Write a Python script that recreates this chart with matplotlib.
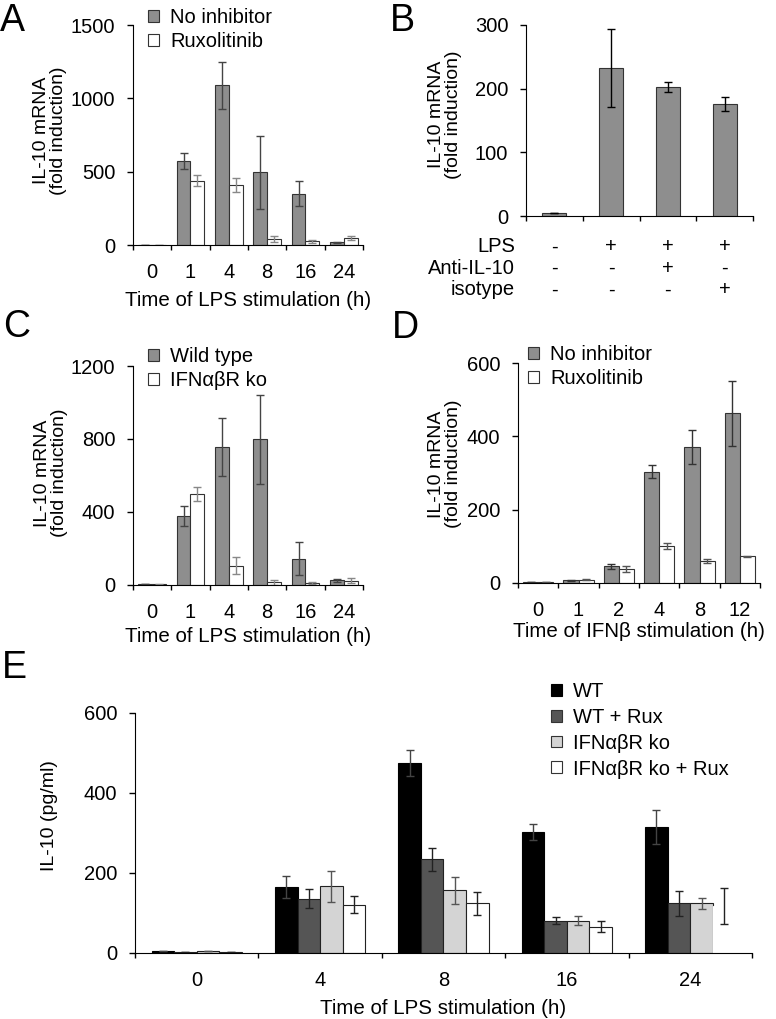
import numpy as np
import matplotlib
matplotlib.use("Agg")
import matplotlib.pyplot as plt
from matplotlib.patches import Patch

FS = 14.5
plt.rcParams['font.family'] = ['Liberation Sans', 'DejaVu Sans']
plt.rcParams['font.size'] = FS

# ---- data ----
# A: IL-10 mRNA after LPS, with / without ruxolitinib
a_times = ['0', '1', '4', '8', '16', '24']
a_noinh = [3, 572, 1091, 497, 352, 20]
a_noinh_err = [1, 54, 160, 247, 86, 5]
a_rux = [2, 440, 408, 43, 27, 48]
a_rux_err = [1, 38, 48, 20, 10, 13]

# B: anti-IL-10 / isotype
b_vals = [4, 232, 202, 176]
b_err = [0, 61, 8, 11]
b_rows = ['LPS', 'Anti-IL-10', 'isotype']
b_signs = [['-', '+', '+', '+'],
           ['-', '-', '+', '-'],
           ['-', '-', '-', '+']]

# C: wild type vs IFNabR ko
c_times = ['0', '1', '4', '8', '16', '24']
c_wt = [2, 376, 755, 797, 141, 22]
c_wt_err = [1, 56, 157, 245, 90, 7]
c_ko = [1, 498, 104, 13, 7, 20]
c_ko_err = [1, 37, 48, 14, 4, 13]

# D: IFNb stimulation
d_times = ['0', '1', '2', '4', '8', '12']
d_noinh = [1, 7, 45, 304, 371, 463]
d_noinh_err = [0, 1, 7, 19, 46, 89]
d_rux = [1, 8, 38, 100, 60, 72]
d_rux_err = [0, 1, 8, 9, 6, 2]

# E: IL-10 protein
e_times = ['0', '4', '8', '16', '24']
e_labels = ['WT', 'WT + Rux', 'IFN\u03b1\u03b2R ko', 'IFN\u03b1\u03b2R ko + Rux']
e_wt = [3, 164, 474, 301, 314]
e_wt_err = [0, 27, 33, 20, 42]
e_wtrux = [2, 135, 233, 80, 123]
e_wtrux_err = [0, 23, 30, 8, 32]
e_ko = [3, 166, 156, 80, 123]
e_ko_err = [0, 39, 34, 12, 13]
e_korux = [2, 120, 123, 65, 117]
e_korux_err = [0, 22, 28, 13, 45]

GRAY = '#8e8e8e'
EDGE = '#333333'

W, H = 776, 1019
fig = plt.figure(figsize=(W / 100, H / 100), dpi=100)


def px_axes(x0, y0, x1, y1):
    return fig.add_axes([x0 / W, 1 - y1 / H, (x1 - x0) / W, (y1 - y0) / H])


def style(ax, labels, ymax, yticks, xlabel=None, labelpad=6):
    n = len(labels)
    for s in ['top', 'right']:
        ax.spines[s].set_visible(False)
    ax.set_xlim(-0.5, n - 0.5)
    ax.set_ylim(0, ymax)
    ax.set_xticks(np.arange(n + 1) - 0.5)
    ax.set_xticklabels([])
    ax.set_xticks(np.arange(n), minor=True)
    ax.set_xticklabels(labels, minor=True)
    ax.tick_params(axis='x', which='major', direction='out', length=3.6, width=1)
    ax.tick_params(axis='x', which='minor', length=0, pad=13)
    ax.set_yticks(yticks)
    ax.tick_params(axis='y', direction='out', length=4.3, width=1, pad=8.5)
    if xlabel:
        ax.set_xlabel(xlabel, labelpad=labelpad, fontsize=14.8)


def ylabel(ax, text, xc, frac=0.52):
    ax.set_ylabel(text, linespacing=1.07, fontsize=14)
    x0 = ax.get_position().x0 * W
    w = ax.get_position().width * W
    ax.yaxis.set_label_coords((xc - x0) / w, frac)
    ax.yaxis.label.set_va('center')


def pair_bars(ax, v1, e1, v2, e2, c_err1, c_err2, width=0.36):
    x = np.arange(len(v1))
    ax.bar(x - width / 2, v1, width, yerr=e1, color=GRAY, edgecolor=EDGE, linewidth=0.8,
           error_kw=dict(ecolor=c_err1, elinewidth=1, capsize=3.2, capthick=1))
    ax.bar(x + width / 2, v2, width, yerr=e2, color='white', edgecolor=EDGE, linewidth=0.8,
           error_kw=dict(ecolor=c_err2, elinewidth=1, capsize=3.2, capthick=1))


def legend(ax, names, faces, x, y, spacing=0.27):
    handles = [Patch(facecolor=f, edgecolor=EDGE if f != 'black' else 'black', linewidth=0.8)
               for f in faces]
    ax.legend(handles, names, loc='upper left', bbox_to_anchor=(x / W, 1 - y / H),
              bbox_transform=fig.transFigure, frameon=False, borderpad=0, borderaxespad=0,
              handlelength=0.53, handleheight=0.53, handletextpad=0.56,
              labelspacing=spacing, fontsize=FS)


# ---- A ----
axA = px_axes(133, 25, 363, 245.3)
pair_bars(axA, a_noinh, a_noinh_err, a_rux, a_rux_err, '#444444', '#888888')
style(axA, a_times, 1500, [0, 500, 1000, 1500], 'Time of LPS stimulation (h)', labelpad=6)
ylabel(axA, 'IL-10 mRNA\n(fold induction)', 50)
legend(axA, ['No inhibitor', 'Ruxolitinib'], [GRAY, 'white'], 148, 8)

# ---- B ----
axB = px_axes(526, 25, 753, 216)
axB.bar(np.arange(4), b_vals, 0.42, yerr=b_err, color=GRAY, edgecolor=EDGE, linewidth=0.8,
        error_kw=dict(ecolor='black', elinewidth=1, capsize=3.2, capthick=1))
style(axB, [''] * 4, 300, [0, 100, 200, 300])
ylabel(axB, 'IL-10 mRNA\n(fold induction)', 445, 0.53)
row_y = [-0.162, -0.275, -0.387]
for r, name in enumerate(b_rows):
    axB.text(-0.694, row_y[r], name, transform=axB.get_xaxis_transform(),
             ha='right', va='center', fontsize=FS)
    for i, s in enumerate(b_signs[r]):
        axB.text(i, row_y[r], s, transform=axB.get_xaxis_transform(),
                 ha='center', va='center', fontsize=FS)

# ---- C ----
axC = px_axes(133, 366, 363, 584.5)
pair_bars(axC, c_wt, c_wt_err, c_ko, c_ko_err, '#444444', '#888888')
style(axC, c_times, 1200, [0, 400, 800, 1200], 'Time of LPS stimulation (h)', labelpad=4)
ylabel(axC, 'IL-10 mRNA\n(fold induction)', 51, 0.51)
legend(axC, ['Wild type', 'IFN\u03b1\u03b2R ko'], [GRAY, 'white'], 148, 347)

# ---- D ----
axD = px_axes(518, 363.3, 760, 582.7)
pair_bars(axD, d_noinh, d_noinh_err, d_rux, d_rux_err, '#333333', '#555555', width=0.38)
style(axD, d_times, 600, [0, 200, 400, 600], 'Time of IFN\u03b2 stimulation (h)', labelpad=1.5)
ylabel(axD, 'IL-10 mRNA\n(fold induction)', 445, 0.54)
legend(axD, ['No inhibitor', 'Ruxolitinib'], [GRAY, 'white'], 528, 345)

# ---- E ----
axE = px_axes(135, 713, 752, 952.5)
e_series = [e_wt, e_wtrux, e_ko, e_korux]
e_errs = [e_wt_err, e_wtrux_err, e_ko_err, e_korux_err]
e_faces = ['black', '#555555', '#d4d4d4', 'white']
e_ecols = ['#444444', '#222222', '#555555', '#222222']
bw = 0.183
xe = np.arange(len(e_times))
for k in range(4):
    edges = ['black' if k == 0 else '#222222'] * len(e_times)
    if k == 3:
        edges[-1] = 'white'  # last bar shows only its error bar
    axE.bar(xe + (k - 1.5) * bw, e_series[k], bw, yerr=e_errs[k], color=e_faces[k],
            edgecolor=edges, linewidth=0.8,
            error_kw=dict(ecolor=e_ecols[k], elinewidth=1, capsize=3.2, capthick=1))
style(axE, e_times, 600, [0, 200, 400, 600], 'Time of LPS stimulation (h)', labelpad=7)
ylabel(axE, 'IL-10 (pg/ml)', 50, 0.57)
legend(axE, e_labels, e_faces, 551, 682, spacing=0.34)

# ---- panel letters ----
for letter, (x, y) in zip('ABCDE', [(0, 3), (390, 3), (3, 309), (392, 310), (2, 650)]):
    fig.text(x / W, 1 - y / H, letter, fontsize=27, ha='left', va='top')

fig.savefig('out.png', dpi=100)
